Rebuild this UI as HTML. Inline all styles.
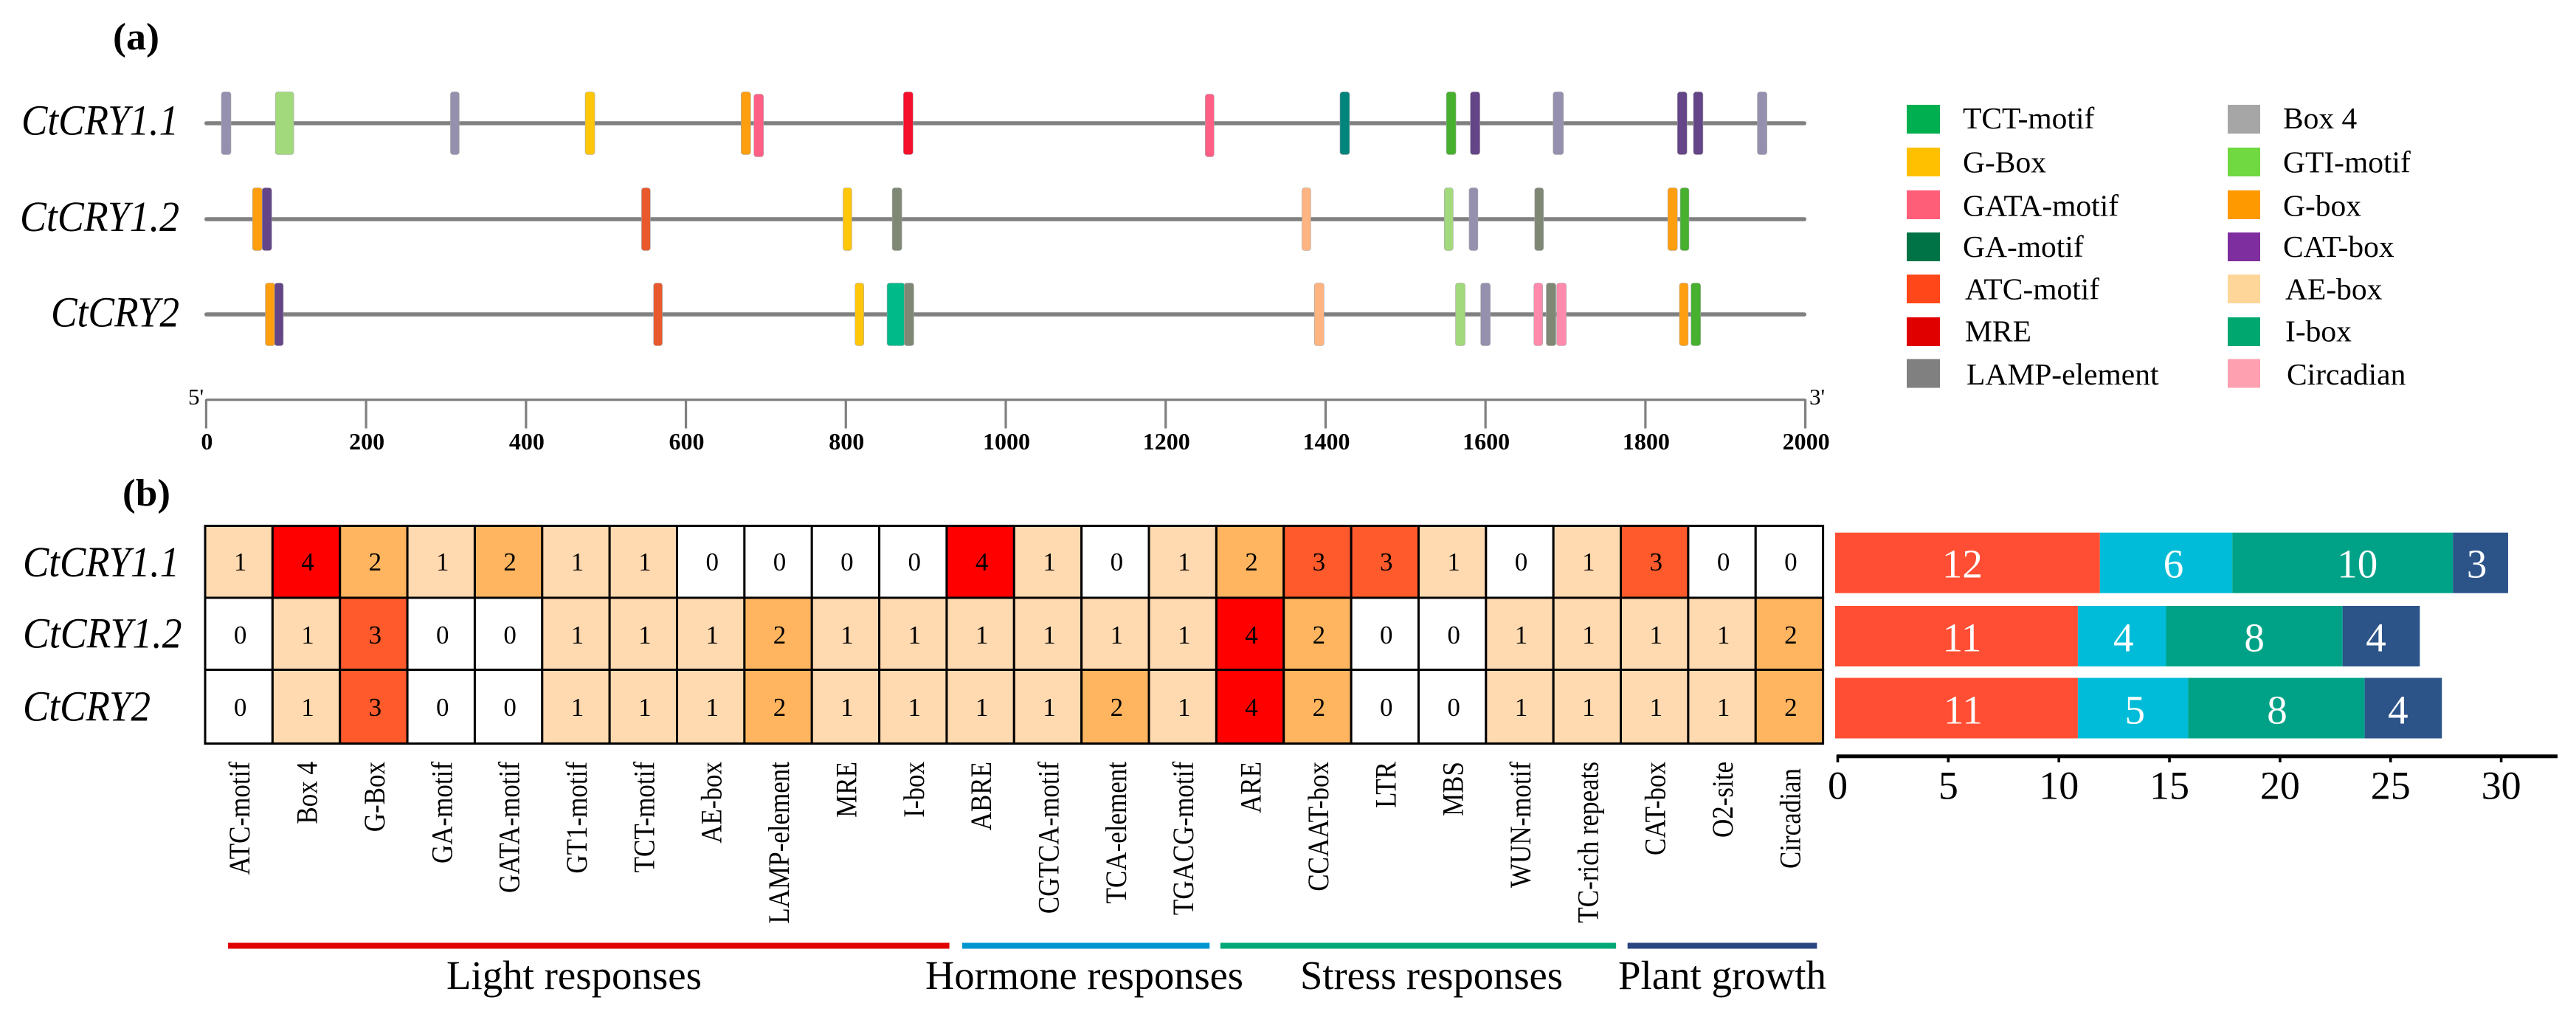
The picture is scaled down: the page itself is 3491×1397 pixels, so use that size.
<!DOCTYPE html>
<html lang="en">
<head>
<meta charset="utf-8">
<title>CtCRY promoter cis-elements</title>
<style>
html,body{margin:0;padding:0;background:#fff;width:3491px;height:1397px;overflow:hidden}
svg{display:block;font-family:"Liberation Serif","Times New Roman",serif}
</style>
</head>
<body>
<svg id="fig" xmlns="http://www.w3.org/2000/svg" width="3491" height="1397" viewBox="0 0 3491 1397">
  <rect width="3491" height="1397" fill="#fff"/>
  <text x="153" y="67" font-size="52" font-weight="bold" textLength="63" lengthAdjust="spacingAndGlyphs">(a)</text>
  <text x="166" y="685" font-size="52" font-weight="bold" textLength="65" lengthAdjust="spacingAndGlyphs">(b)</text>
  <g id="map"></g>
  <g id="legend"></g>
  <g id="heat"></g>
  <g id="bars"></g>
</svg>
<script>
/* ---------- data ---------- */
const geneNames = ['CtCRY1.1', 'CtCRY1.2', 'CtCRY2'];

const gene1Positions = [25, 98, 311, 480, 675, 691, 878, 1255, 1424, 1557, 1587, 1691, 1846, 1866, 1946];
const gene1Types = ['Box 4', 'GTI-motif', 'Box 4', 'G-Box', 'G-box', 'GATA-motif', 'MRE', 'GATA-motif', 'TCT-motif', 'ABRE', 'CAT-box', 'Box 4', 'CAT-box', 'CAT-box', 'Box 4'];
const gene1Lengths = [12, 23, 11, 12, 12, 12, 12, 11, 12, 12, 12, 13, 12, 12, 12];

const gene2Positions = [64, 76, 550, 802, 864, 1376, 1554, 1585, 1667, 1834, 1849];
const gene2Types = ['G-box', 'CAT-box', 'ATC-motif', 'G-Box', 'LAMP-element', 'AE-box', 'GTI-motif', 'Box 4', 'LAMP-element', 'G-box', 'ABRE'];
const gene2Lengths = [12, 12, 11, 11, 12, 11, 11, 11, 11, 12, 11];

const gene3Positions = [80, 91, 565, 817, 862.5, 879, 1392, 1568.5, 1600, 1666, 1682, 1695, 1848, 1863];
const gene3Types = ['G-box', 'CAT-box', 'ATC-motif', 'G-Box', 'I-box', 'LAMP-element', 'AE-box', 'GTI-motif', 'Box 4', 'Circadian', 'LAMP-element', 'Circadian', 'G-box', 'ABRE'];
const gene3Lengths = [12, 11, 11, 11, 22, 12, 12, 12, 12, 11, 12, 12, 11, 12];

const axisTicks = [0, 200, 400, 600, 800, 1000, 1200, 1400, 1600, 1800, 2000];

const legendCol1 = ['TCT-motif', 'G-Box', 'GATA-motif', 'GA-motif', 'ATC-motif', 'MRE', 'LAMP-element'];
const legendCol2 = ['Box 4', 'GTI-motif', 'G-box', 'CAT-box', 'AE-box', 'I-box', 'Circadian'];

const elementNames = ['ATC-motif', 'Box 4', 'G-Box', 'GA-motif', 'GATA-motif', 'GT1-motif', 'TCT-motif', 'AE-box', 'LAMP-element', 'MRE', 'I-box', 'ABRE', 'CGTCA-motif', 'TCA-element', 'TGACG-motif', 'ARE', 'CCAAT-box', 'LTR', 'MBS', 'WUN-motif', 'TC-rich repeats', 'CAT-box', 'O2-site', 'Circadian'];
const heatRow1 = [1, 4, 2, 1, 2, 1, 1, 0, 0, 0, 0, 4, 1, 0, 1, 2, 3, 3, 1, 0, 1, 3, 0, 0];
const heatRow2 = [0, 1, 3, 0, 0, 1, 1, 1, 2, 1, 1, 1, 1, 1, 1, 4, 2, 0, 0, 1, 1, 1, 1, 2];
const heatRow3 = [0, 1, 3, 0, 0, 1, 1, 1, 2, 1, 1, 1, 1, 2, 1, 4, 2, 0, 0, 1, 1, 1, 1, 2];

const groupNames = ['Light responses', 'Hormone responses', 'Stress responses', 'Plant growth'];

const lightLengths = [12, 11, 11];
const hormoneLengths = [6, 4, 5];
const stressLengths = [10, 8, 8];
const growthLengths = [2.5, 3.5, 3.5];
const lightPrinted = [12, 11, 11];
const hormonePrinted = [6, 4, 5];
const stressPrinted = [10, 8, 8];
const growthPrinted = [3, 4, 4];
const barTicks = [0, 5, 10, 15, 20, 25, 30];

/* ---------- styles / layout ---------- */
const NS = 'http://www.w3.org/2000/svg';
const motifColor = {
  'Box 4': '#9590AE', 'GTI-motif': '#A2D97D', 'G-Box': '#FFC60A', 'G-box': '#FF9F0F',
  'GATA-motif': '#FF5E85', 'MRE': '#F5102B', 'TCT-motif': '#00847C', 'ABRE': '#47B02E',
  'CAT-box': '#644588', 'ATC-motif': '#E85A2E', 'LAMP-element': '#7E8875', 'AE-box': '#FFB482',
  'I-box': '#00BA8A', 'Circadian': '#FF8AAB'
};
const legendColor = {
  'TCT-motif': '#00B050', 'G-Box': '#FFC000', 'GATA-motif': '#FF5E78', 'GA-motif': '#007346',
  'ATC-motif': '#FF4719', 'MRE': '#E00000', 'LAMP-element': '#808080', 'Box 4': '#A6A6A6',
  'GTI-motif': '#70D840', 'G-box': '#FF9900', 'CAT-box': '#7F2EA0', 'AE-box': '#FFD699',
  'I-box': '#00A870', 'Circadian': '#FFA0B0'
};
const heatColor = v => ['#FFFFFF', '#FFD9AF', '#FFB55F', '#FF5A2B', '#FF0000'][v];
const groupColor = ['#E00000', '#0096D0', '#00A878', '#2A4580'];
const barColor = ['#FF4E33', '#00BCD8', '#00A287', '#2C5489'];

function mk(tag, attrs, parent, txt) {
  const e = document.createElementNS(NS, tag);
  for (const k in attrs) e.setAttribute(k, attrs[k]);
  if (txt !== undefined) e.textContent = txt;
  parent.appendChild(e);
  return e;
}
const slug = s => String(s).toLowerCase().replace(/[^a-z0-9]+/g, '-');

/* ---------- panel a ---------- */
const xBp = v => 279.4 + v * 1.0836;
const map = document.getElementById('map');
const geneY = [167, 297, 426];
const geneLabelBox = [[29, 213, 182.5], [27, 216, 313], [69, 174, 442.5]];
const genePositions = [gene1Positions, gene2Positions, gene3Positions];
const geneTypes = [gene1Types, gene2Types, gene3Types];
const geneLengths = [gene1Lengths, gene2Lengths, gene3Lengths];

geneNames.forEach((name, g) => {
  const box = geneLabelBox[g];
  const label = mk('text', {x: box[0], y: box[2], 'font-size': 58, 'font-style': 'italic', textLength: box[1], lengthAdjust: 'spacingAndGlyphs'}, map, name);
  
  
  const line = mk('rect', {x: 277, y: geneY[g] - 2.8, width: 2171, height: 5.6, rx: 2.8, fill: '#808080'}, map);
  
  
  genePositions[g].forEach((p, i) => {
    const type = geneTypes[g][i];
    const len = geneLengths[g][i];
    const dy = type === 'GATA-motif' ? 3 : 0;
    const r = mk('rect', {
      x: xBp(p - len / 2), y: geneY[g] - 42.5 + dy, width: len * 1.0836, height: 85, rx: 3.5,
      fill: motifColor[type], stroke: '#a8a8a8', 'stroke-width': 0.6
    }, map);
    
    
  });
});

const axisLine = mk('rect', {x: xBp(0), y: 540, width: xBp(2000) - xBp(0), height: 3.3, fill: '#808080'}, map);


axisTicks.forEach(t => {
  const tick = mk('rect', {x: xBp(t) - 1.6, y: 541, width: 3.2, height: 39.5, fill: '#808080'}, map);
  
  
  const lab = mk('text', {x: xBp(t) + 1, y: 609, 'font-size': 32, 'font-weight': 'bold', 'text-anchor': 'middle'}, map, t);
  
  
});
const fivePrime = mk('text', {x: 255, y: 548, 'font-size': 31}, map, "5'");


const threePrime = mk('text', {x: 2452, y: 548, 'font-size': 31}, map, "3'");



/* ---------- legend ---------- */
const legend = document.getElementById('legend');
const rowTop = [142, 200, 258, 315, 372, 430, 486.5];
const rowBase = [174, 233.5, 292.5, 348, 405.5, 462.5, 521];
[[legendCol1, 2584, 45, 2660], [legendCol2, 3019, 44, 3094]].forEach(([names, sx, sw, tx]) => {
  names.forEach((n, i) => {
    const sq = mk('rect', {x: sx, y: rowTop[i], width: sw, height: 39, fill: legendColor[n]}, legend);
    
    
    const nudge = ['ATC-motif', 'MRE', 'AE-box', 'I-box'].includes(n) ? 3 : (n === 'LAMP-element' || n === 'Circadian') ? 5 : 0;
    const t = mk('text', {x: tx + nudge, y: rowBase[i], 'font-size': 41.5}, legend, n);
    
    
  });
});

/* ---------- panel b heatmap ---------- */
const heat = document.getElementById('heat');
const heatLeft = 278, heatRight = 2470.6;
const colW = (heatRight - heatLeft) / elementNames.length;
const rowEdges = [712.5, 810, 907.5, 1007.5];
const colX = i => heatLeft + i * colW;
const heatRows = [heatRow1, heatRow2, heatRow3];
const heatLabelBox = [[31, 212, 781], [31, 215.5, 877.7], [31, 173, 976.7]];
const heatBase = [773, 872, 970];

heatRows.forEach((row, r) => {
  const box = heatLabelBox[r];
  const lab = mk('text', {x: box[0], y: box[2], 'font-size': 58, 'font-style': 'italic', textLength: box[1], lengthAdjust: 'spacingAndGlyphs'}, heat, geneNames[r]);
  
  
  row.forEach((v, c) => {
    const cell = mk('rect', {
      x: colX(c), y: rowEdges[r], width: colW, height: rowEdges[r + 1] - rowEdges[r],
      fill: heatColor(v), stroke: '#000', 'stroke-width': 3
    }, heat);
    
    
  });
});
heatRows.forEach((row, r) => {
  row.forEach((v, c) => {
    const val = mk('text', {x: colX(c) + colW / 2 + 2, y: heatBase[r], 'font-size': 35, 'text-anchor': 'middle'}, heat, v);
    
    
  });
});
elementNames.forEach((n, c) => {
  const top = n === 'Circadian' ? 1041 : 1032;
  const t = mk('text', {
    transform: 'translate(' + (colX(c) + colW / 2 + 14.5) + ',' + top + ') rotate(-90) scale(0.875,1)',
    'font-size': 40, 'text-anchor': 'end'
  }, heat, n);
  
  
});

const groupSpans = [[0.34, 11.04], [11.23, 14.9], [15.06, 20.93], [21.1, 23.91]];
const groupLabelBox = [[605, 346], [1254, 431], [1762, 356], [2193, 282]];
groupNames.forEach((n, i) => {
  const b = mk('rect', {x: colX(groupSpans[i][0]), y: 1277.5, width: colX(groupSpans[i][1]) - colX(groupSpans[i][0]), height: 8, fill: groupColor[i]}, heat);
  
  
  const t = mk('text', {x: groupLabelBox[i][0], y: 1340, 'font-size': 55, textLength: groupLabelBox[i][1], lengthAdjust: 'spacingAndGlyphs'}, heat, n);
  
  
});

/* ---------- stacked bars ---------- */
const bars = document.getElementById('bars');
const xBar = v => 2487 + v * 29.9;
const xTick = v => 2490.5 + v * 29.97;
const barTop = [721.7, 821, 918.5];
const barH = 82;
const barBase = [782.7, 882.3, 980.7];
const barSeries = [lightLengths, hormoneLengths, stressLengths, growthLengths];
const barPrinted = [lightPrinted, hormonePrinted, stressPrinted, growthPrinted];
const labelNudgeX = [[-7, 10, 20, -5], [7.5, 2, 0, -7], [9, 2.6, 1, -7]];

geneNames.forEach((gene, r) => {
  let acc = 0;
  barSeries.forEach((series, s) => {
    const v = series[r];
    const seg = mk('rect', {x: xBar(acc), y: barTop[r], width: xBar(acc + v) - xBar(acc), height: barH, fill: barColor[s]}, bars);
    
    
    const t = mk('text', {x: (xBar(acc) + xBar(acc + v)) / 2 + labelNudgeX[r][s], y: barBase[r], 'font-size': 55, fill: '#fff', 'text-anchor': 'middle'}, bars, barPrinted[s][r]);
    
    
    acc += v;
  });
});
const barAxis = mk('rect', {x: 2489, y: 1022.3, width: 977, height: 5, fill: '#000'}, bars);


barTicks.forEach(t => {
  const tk = mk('rect', {x: xTick(t) - 1.8, y: 1023, width: 3.6, height: 10, fill: '#000'}, bars);
  
  
  const lb = mk('text', {x: xTick(t), y: 1082.7, 'font-size': 54, 'text-anchor': 'middle'}, bars, t);
  
  
});
</script>
</body>
</html>
